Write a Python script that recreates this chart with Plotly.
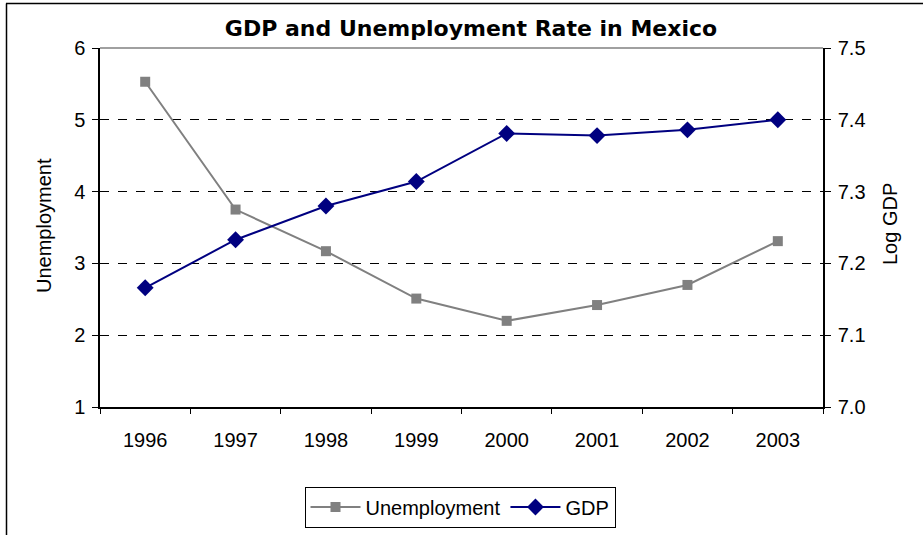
import plotly.graph_objects as go

# Data
years = ["1996", "1997", "1998", "1999", "2000", "2001", "2002", "2003"]
unemployment = [5.53, 3.75, 3.17, 2.51, 2.20, 2.42, 2.70, 3.31]
log_gdp = [7.166, 7.233, 7.280, 7.314, 7.381, 7.378, 7.386, 7.400]
left_ticks = [1, 2, 3, 4, 5, 6]
right_ticks = [7.0, 7.1, 7.2, 7.3, 7.4, 7.5]

W, H = 923, 535
L, R, T, B = 100, 100, 48, 128
PW, PH = W - L - R, H - T - B


def px(x):
    return (x - L) / PW


def py(y):
    return (H - B - y) / PH


FONT = "Arial, Liberation Sans, sans-serif"
FS = 20

fig = go.Figure()
fig.add_trace(go.Scatter(
    x=years, y=unemployment, name="Unemployment", mode="lines+markers",
    line=dict(color="#808080", width=2),
    marker=dict(symbol="square", size=10, color="#808080"),
    yaxis="y",
))
fig.add_trace(go.Scatter(
    x=years, y=log_gdp, name="GDP", mode="lines+markers",
    line=dict(color="#000080", width=2),
    marker=dict(symbol="diamond", size=13, color="#000080"),
    yaxis="y2",
))

fig.update_layout(
    width=W, height=H,
    margin=dict(l=L, r=R, t=T, b=B, autoexpand=False),
    paper_bgcolor="white", plot_bgcolor="white",
    font=dict(family=FONT, size=FS, color="black"),
    title=dict(text="<b>GDP and Unemployment Rate in Mexico</b>",
               x=471 / W, xref="container", xanchor="center",
               y=1 - 28 / H, yref="container", yanchor="middle",
               font=dict(size=22, family="DejaVu Sans, Arial, sans-serif",
                         color="black")),
    xaxis=dict(type="category", tickson="boundaries", ticks="outside",
               ticklen=5, tickcolor="black", showline=True, linecolor="black",
               linewidth=1.5, showgrid=False, range=[-0.5, 7.5],
               tickfont=dict(size=FS), zeroline=False,
               ticklabelstandoff=14, automargin=False),
    yaxis=dict(range=[1, 6], tickvals=left_ticks, ticks="outside", ticklen=6,
               tickcolor="black", showline=True, linecolor="black",
               linewidth=1.5, showgrid=True, gridcolor="black",
               griddash="dash", gridwidth=1, zeroline=False,
               tickfont=dict(size=FS), ticklabelstandoff=3, automargin=False),
    yaxis2=dict(range=[7.0, 7.5], tickvals=right_ticks, tickformat=".1f",
                overlaying="y", side="right", ticks="outside", ticklen=6,
                tickcolor="black", showline=True, linecolor="black",
                linewidth=1.5, showgrid=False, zeroline=False,
                tickfont=dict(size=FS), ticklabelstandoff=3, automargin=False),
    legend=dict(orientation="h", x=px(460), y=py(507), xanchor="center",
                yanchor="middle", bordercolor="black", borderwidth=1,
                bgcolor="white", font=dict(size=FS, family=FONT),
                itemwidth=50, tracegroupgap=0),
    showlegend=True,
)

fig.add_annotation(text="Unemployment", textangle=-90, x=px(44), y=py(226),
                   xref="paper", yref="paper", xanchor="center",
                   yanchor="middle", showarrow=False, font=dict(size=FS))
fig.add_annotation(text="Log GDP", textangle=-90, x=px(890), y=py(224),
                   xref="paper", yref="paper", xanchor="center",
                   yanchor="middle", showarrow=False, font=dict(size=FS))

# plot-area top edge (gray) and chart frame
fig.add_shape(type="line", xref="paper", yref="paper", x0=0, x1=1, y0=1, y1=1,
              line=dict(color="#808080", width=1.5), layer="above")
fig.add_shape(type="line", xref="paper", yref="paper", x0=px(6), x1=px(W + 5),
              y0=py(3.5), y1=py(3.5), line=dict(color="black", width=1.5))
fig.add_shape(type="line", xref="paper", yref="paper", x0=px(6.5), x1=px(6.5),
              y0=py(3.5), y1=py(H + 5), line=dict(color="black", width=1.5))

fig.write_html("out.html")
